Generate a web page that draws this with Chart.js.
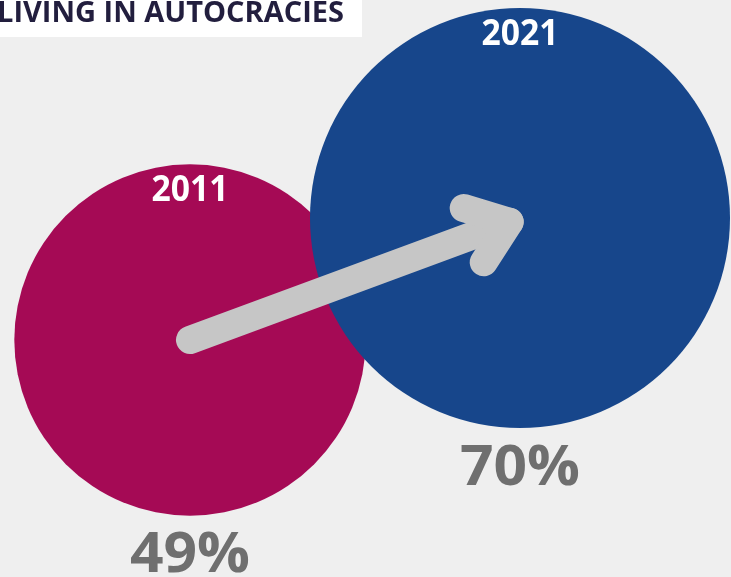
<!DOCTYPE html>
<html>
<head>
<meta charset="utf-8">
<script src="https://cdn.jsdelivr.net/npm/chart.js@4"></script>
<style>
  html, body { margin: 0; padding: 0; background: #efefef; }
  #wrap { width: 731px; height: 577px; position: relative; }
</style>
</head>
<body>
<div id="wrap"><canvas id="c" width="731" height="577"></canvas></div>
<script>
// ---- data ----
const title = 'LIVING IN AUTOCRACIES';
const years = ['2011', '2021'];
const shares = [49, 70];            // % of world population living in autocracies
const shareLabels = ['49%', '70%'];
const colors = ['#a50a55', '#17468b'];

// ---- layout constants (not data) ----
const RADIUS_K = 25.1;              // px per sqrt(percent)
const FONT = '"Open Sans", "DejaVu Sans", sans-serif';

function fitText(ctx, text, cx, capCenterY, size, width, color, align) {
  ctx.save();
  ctx.font = 'bold ' + size + 'px ' + FONT;
  const w = ctx.measureText(text).width;
  const capH = size * 0.714;
  ctx.translate(cx, capCenterY + capH / 2);
  ctx.scale(width / w, 1);
  ctx.fillStyle = color;
  ctx.textBaseline = 'alphabetic';
  ctx.textAlign = align || 'center';
  ctx.fillText(text, 0, 0);
  ctx.restore();
}

const decorPlugin = {
  id: 'decor',
  beforeDraw(chart) {
    const ctx = chart.ctx;
    ctx.save();
    ctx.fillStyle = '#efefef';
    ctx.fillRect(0, 0, chart.width, chart.height);
    ctx.fillStyle = '#ffffff';
    ctx.fillRect(0, 0, 362, 37);
    ctx.restore();
    fitText(ctx, title, -3, 12.5, 28, 347, '#221e3e', 'left');
  },
  afterDatasetsDraw(chart) {
    const ctx = chart.ctx;
    const meta = chart.getDatasetMeta(0);
    const p0 = meta.data[0], p1 = meta.data[1];
    const dx = p1.x - p0.x, dy = p1.y - p0.y;
    const len = Math.hypot(dx, dy);
    const ux = dx / len, uy = dy / len;
    const tipX = p1.x - 11 * ux, tipY = p1.y - 11 * uy;
    const armLen = 48, ang = 37 * Math.PI / 180;
    const rx = -ux, ry = -uy;
    const a1x = tipX + armLen * (rx * Math.cos(ang) - ry * Math.sin(ang));
    const a1y = tipY + armLen * (rx * Math.sin(ang) + ry * Math.cos(ang));
    const a2x = tipX + armLen * (rx * Math.cos(-ang) - ry * Math.sin(-ang));
    const a2y = tipY + armLen * (rx * Math.sin(-ang) + ry * Math.cos(-ang));
    ctx.save();
    ctx.strokeStyle = '#c6c6c6';
    ctx.lineWidth = 28;
    ctx.lineCap = 'round';
    ctx.lineJoin = 'round';
    ctx.beginPath();
    ctx.moveTo(p0.x, p0.y);
    ctx.lineTo(tipX, tipY);
    ctx.stroke();
    ctx.beginPath();
    ctx.moveTo(a1x, a1y);
    ctx.lineTo(tipX, tipY);
    ctx.lineTo(a2x, a2y);
    ctx.stroke();
    ctx.restore();
    meta.data.forEach((pt, i) => {
      const r = pt.options.radius;
      fitText(ctx, years[i], pt.x, pt.y - r + 24, 36, 77, '#ffffff');
      fitText(ctx, shareLabels[i], pt.x, pt.y + r + 37, 55, 120, '#6f6f6f');
    });
  }
};

const W = 731, H = 577;
const xPx = [190, 520];
const xPerUnit = xPx[1] - xPx[0];
const xMin = -xPx[0] / xPerUnit, xMax = xMin + W / xPerUnit;
const yTop = 340, yStep = (340 - 218) / (shares[1] - shares[0]);
const yMax = shares[0] + yTop / yStep, yMin = yMax - H / yStep;

new Chart(document.getElementById('c'), {
  type: 'bubble',
  data: {
    datasets: [{
      data: shares.map((v, i) => ({ x: i, y: v, r: RADIUS_K * Math.sqrt(v) })),
      backgroundColor: colors,
      borderWidth: 0,
      hoverRadius: 0,
      clip: false
    }]
  },
  options: {
    responsive: false,
    devicePixelRatio: 1,
    animation: false,
    events: [],
    layout: { padding: 0, autoPadding: false },
    plugins: { legend: { display: false }, tooltip: { enabled: false }, title: { display: false } },
    scales: {
      x: { type: 'linear', display: false, min: xMin, max: xMax },
      y: { type: 'linear', display: false, min: yMin, max: yMax }
    }
  },
  plugins: [decorPlugin]
});
</script>
</body>
</html>
